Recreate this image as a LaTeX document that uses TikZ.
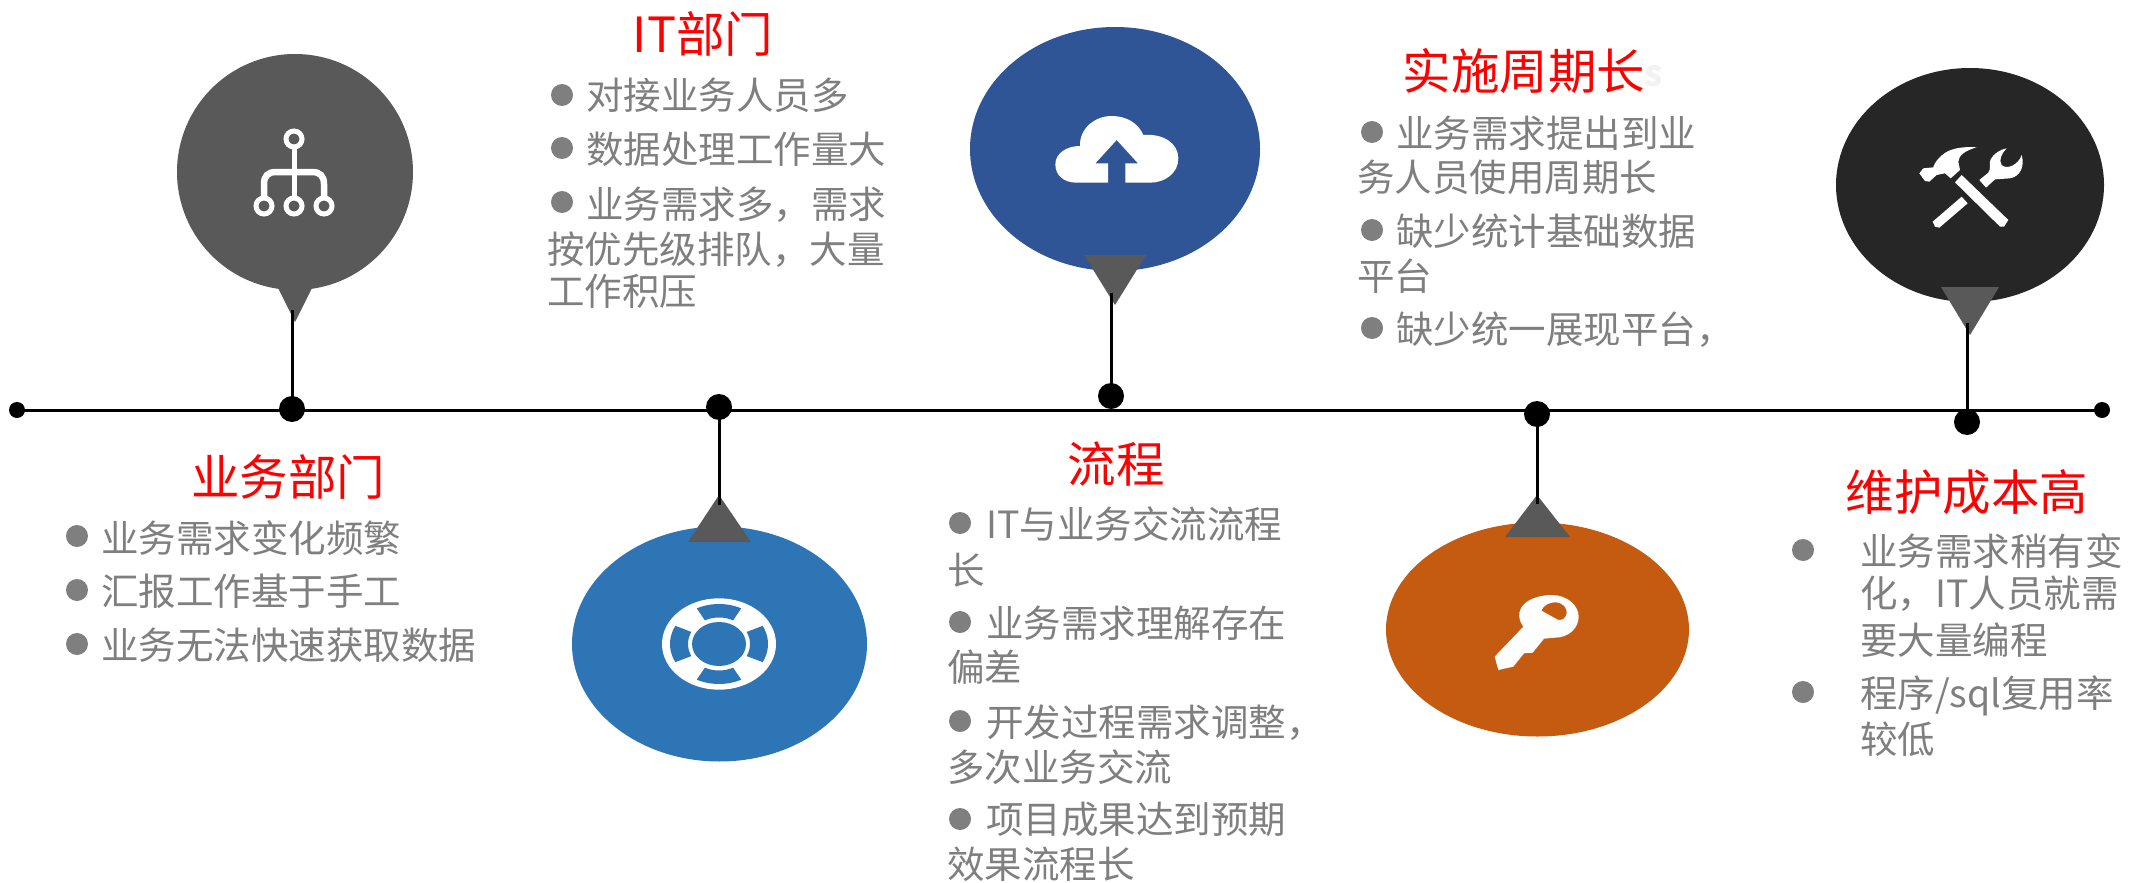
\documentclass[tikz,border=0pt]{standalone}
\usepackage{fontspec}
\setmainfont{Noto Sans CJK SC}
\usetikzlibrary{shapes.geometric}
\definecolor{bodygray}{HTML}{7F7F7F}
\definecolor{pingray}{HTML}{595959}
\definecolor{seablue}{HTML}{2E75B6}
\definecolor{navyblue}{HTML}{2F5597}
\definecolor{rustorange}{HTML}{C55A11}
\definecolor{nearblack}{HTML}{262626}
\tikzset{
  bubble/.style={ellipse,inner sep=0pt,outer sep=0pt,draw=none},
  knot/.style={circle,fill=black,inner sep=0pt,outer sep=0pt,minimum size=26pt},
  endknot/.style={circle,fill=black,inner sep=0pt,outer sep=0pt,minimum size=16pt},
  wire/.style={draw=black,line width=3pt},
  pin/.style={fill=pingray,draw=none},
  icon/.style={fill=white,draw=none},
  zoomed/.style={scale=0.33333},
  heading/.style={anchor=base,inner sep=0pt,text=red,font=\fontsize{48.5}{56}\selectfont},
  bodyline/.style={anchor=base west,inner sep=0pt,text=bodygray,font=\fontsize{37.5}{44}\selectfont},
  dotmark/.style={circle,fill=bodygray,inner sep=0pt,minimum size=22pt},
}
\begin{document}
\begin{tikzpicture}[x=1pt,y=-1pt]
\path[use as bounding box,fill=white] (0,0) rectangle (2129,883);

% bubbles
\node[bubble,fill=pingray,minimum width=236pt,minimum height=236pt] (b1) at (295,172) {};
\node[bubble,fill=seablue,minimum width=295pt,minimum height=235pt] (b2) at (719.5,644) {};
\node[bubble,fill=navyblue,minimum width=290pt,minimum height=244pt] (b3) at (1115,149) {};
\node[bubble,fill=rustorange,minimum width=303pt,minimum height=214pt] (b4) at (1537.5,629.5) {};
\node[bubble,fill=nearblack,minimum width=268pt,minimum height=234pt] (b5) at (1970,185) {};

% pins
\fill[pin] (278,288) -- (312,288) -- (295,322) -- cycle;
\fill[pin] (688,542) -- (751,542) -- (719,495) -- cycle;
\fill[pin] (1084,255) -- (1146,255) -- (1115,305) -- cycle;
\fill[pin] (1505,537) -- (1570,537) -- (1537,495) -- cycle;
\fill[pin] (1941,287) -- (1999,287) -- (1970,335) -- cycle;

% axis
\node[endknot] (axL) at (17,410) {};
\node[endknot] (axR) at (2102,410) {};
\draw[wire] (axL.center) -- (axR.center);

% stems
\node[knot] (k1) at (292,409) {};
\node[knot] (k2) at (719,407) {};
\node[knot] (k3) at (1111,396) {};
\node[knot] (k4) at (1537,414) {};
\node[knot] (k5) at (1967,422) {};
\coordinate (t1) at (292,310);
\coordinate (t2) at (719,505);
\coordinate (t3) at (1111,293);
\coordinate (t4) at (1537,504);
\coordinate (t5) at (1967,323);
\draw[wire] (t1) -- (k1.center);
\draw[wire] (t2) -- (k2.center);
\draw[wire] (t3) -- (k3.center);
\draw[wire] (t4) -- (k4.center);
\draw[wire] (t5) -- (k5.center);

% icon 1: network
\begin{scope}[draw=white,line width=5pt]
\draw (294,139) circle[radius=8];
\draw (264,206) circle[radius=8];
\draw (294,206) circle[radius=8];
\draw (324,206) circle[radius=8];
\draw (294,147) -- (294,198);
\draw[line width=6.5pt] (264,198) -- (264,184) .. controls (264,176) and (268,172) .. (276,172) -- (312,172) .. controls (320,172) and (324,176) .. (324,184) -- (324,198);
\end{scope}

% icon 2: life ring
\begin{scope}[shift={(719,644)}]
\fill[white] (0,0) ellipse[x radius=57,y radius=45.7];
\fill[seablue] (0,0) ellipse[x radius=27,y radius=22];
\foreach \a in {0,90,180,270}{
  \fill[seablue,even odd rule] plot[smooth,samples=13,domain=\a-27:\a+27,variable=\t] ({49*cos(\t)},{40*sin(\t)})
    -- plot[smooth,samples=13,domain=\a+27:\a-27,variable=\t] ({31*cos(\t)},{26.5*sin(\t)}) -- cycle;
}
\end{scope}

% icon 3: cloud with arrow
\begin{scope}[shift={(960,20)},zoomed]
\fill[icon] (350,488) .. controls (310,488) and (286,465) .. (286,433) .. controls (286,400) and (320,378) .. (360,378)
  .. controls (358,325) and (405,288) .. (455,288) .. controls (500,288) and (535,310) .. (550,345)
  .. controls (610,340) and (655,370) .. (655,415) .. controls (655,460) and (615,488) .. (570,488)
  -- (496,488) -- (496,430) -- (534,430) -- (470,360) -- (406,430) -- (444,430) -- (444,488) -- cycle;
\end{scope}

% icon 4: key
\begin{scope}[shift={(1380,480)},zoomed]
\fill[icon,even odd rule] (430,440) .. controls (415,420) and (412,395) .. (430,375) .. controls (450,352) and (490,345) .. (515,345)
  .. controls (560,345) and (596,375) .. (596,410) .. controls (596,445) and (565,473) .. (525,473)
  -- (492,476) -- (458,518) -- (432,520) -- (400,560) -- (355,570) -- (344,530) -- cycle
  (484,392) .. controls (490,375) and (510,367) .. (525,367) .. controls (550,367) and (562,385) .. (560,400)
  .. controls (558,415) and (545,422) .. (535,420) -- cycle;
\end{scope}

% icon 5: hammer and wrench
\begin{scope}[shift={(1820,80)},zoomed]
\fill[icon] (405,307) -- (425,285) -- (565,420) -- (552,440) -- (540,440) -- cycle;
\fill[icon] (298,280) -- (310,265) -- (340,262) .. controls (342,250) and (360,225) .. (385,213) .. controls (410,202) and (440,200) .. (470,202)
  .. controls (440,210) and (415,225) .. (415,245) -- (420,270) -- (392,295) -- (375,280) -- (350,285) -- (328,305) -- (315,303) -- cycle;
\fill[icon] (338,425) -- (425,350) -- (443,370) -- (358,443) -- (345,440) -- cycle;
\fill[icon] (478,300) -- (505,278) .. controls (515,265) and (505,250) .. (512,238) .. controls (520,222) and (540,208) .. (560,205)
  .. controls (545,220) and (535,240) .. (545,255) .. controls (560,270) and (595,255) .. (605,225)
  .. controls (615,260) and (600,290) .. (570,295) -- (525,298) -- (498,323) -- cycle;
\end{scope}

% group 1
\node[heading] (h1) at (288,495) {业务部门};
\node[dotmark] (d11) at (77,536) {};
\node[bodyline] (l11) at (101,552) {业务需求变化频繁};
\node[dotmark] (d12) at (77,590) {};
\node[bodyline] (l12) at (101,605) {汇报工作基于手工};
\node[dotmark] (d13) at (77,644) {};
\node[bodyline] (l13) at (101,659) {业务无法快速获取数据};

% group 2
\node[heading] (h2) at (703,53) {IT部门};
\node[dotmark] (d21) at (562,95) {};
\node[bodyline] (l21) at (586,110) {对接业务人员多};
\node[dotmark] (d22) at (562,148) {};
\node[bodyline] (l22) at (586,163) {数据处理工作量大};
\node[dotmark] (d23) at (562,202) {};
\node[bodyline] (l23) at (586,218) {业务需求多，需求};
\node[bodyline] (l24) at (547,263) {按优先级排队，大量};
\node[bodyline] (l25) at (547,305) {工作积压};

% group 3
\node[heading] (h3) at (1116,482) {流程};
\node[dotmark] (d31) at (960,523) {};
\node[bodyline] (l31) at (986,538) {IT与业务交流流程};
\node[bodyline] (l32) at (947,584) {长};
\node[dotmark] (d33) at (960,622) {};
\node[bodyline] (l33) at (986,637) {业务需求理解存在};
\node[bodyline] (l34) at (947,681) {偏差};
\node[dotmark] (d35) at (960,721) {};
\node[bodyline] (l35) at (986,736) {开发过程需求调整，};
\node[bodyline] (l36) at (947,781) {多次业务交流};
\node[dotmark] (d37) at (960,819) {};
\node[bodyline] (l37) at (986,833) {项目成果达到预期};
\node[bodyline] (l38) at (947,878) {效果流程长};

% group 4
\node[heading] (h4) at (1524,89) {实施周期长};
\node[anchor=base,inner sep=0pt,text=black!5,font=\bfseries\fontsize{36}{42}\selectfont] (s4) at (1654,87) {s};
\node[dotmark] (d41) at (1372,132) {};
\node[bodyline] (l41) at (1396,147) {业务需求提出到业};
\node[bodyline] (l42) at (1357,191) {务人员使用周期长};
\node[dotmark] (d43) at (1372,230) {};
\node[bodyline] (l43) at (1396,245) {缺少统计基础数据};
\node[bodyline] (l44) at (1357,290) {平台};
\node[dotmark] (d45) at (1372,328) {};
\node[bodyline] (l45) at (1396,343) {缺少统一展现平台，};

% group 5
\node[heading] (h5) at (1967,510) {维护成本高};
\node[dotmark] (d51) at (1803,550) {};
\node[bodyline] (l51) at (1860,565) {业务需求稍有变};
\node[bodyline] (l52) at (1860,607) {化，IT人员就需};
\node[bodyline] (l53) at (1860,654) {要大量编程};
\node[dotmark] (d54) at (1803,692) {};
\node[bodyline] (l54) at (1860,707) {程序/sql复用率};
\node[bodyline] (l55) at (1860,753) {较低};
\end{tikzpicture}
\end{document}
